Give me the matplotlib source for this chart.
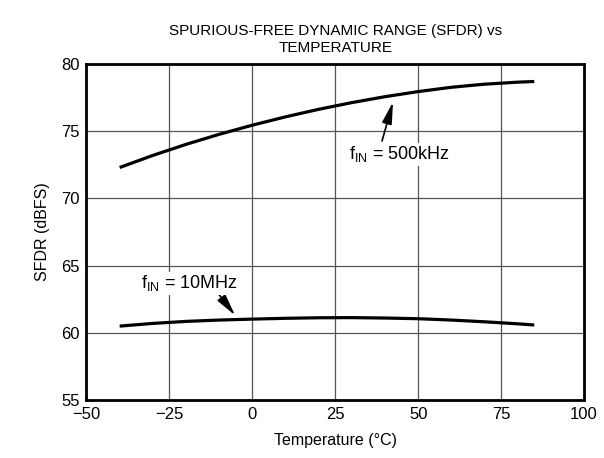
import matplotlib
matplotlib.use("Agg")
import matplotlib.pyplot as plt

plt.rcParams["font.family"] = ["Liberation Sans", "DejaVu Sans"]
plt.rcParams["mathtext.fontset"] = "custom"
plt.rcParams["mathtext.rm"] = "Liberation Sans"

temp = [-40, -30, -20, -10, 0, 10, 20, 30, 40, 50, 60, 70, 80, 85]
sfdr_500k = [72.3, 73.2, 74.02, 74.77, 75.45, 76.07, 76.63, 77.13, 77.57, 77.95, 78.27, 78.5, 78.65, 78.7]
sfdr_10m = [60.5, 60.7, 60.85, 60.95, 61.02, 61.08, 61.12, 61.13, 61.1, 61.05, 60.95, 60.82, 60.67, 60.58]

x_ticks = [-50, -25, 0, 25, 50, 75, 100]
x_tick_labels = ["\u221250", "\u221225", "0", "25", "50", "75", "100"]
y_ticks = [55, 60, 65, 70, 75, 80]

fig = plt.figure(figsize=(6.04, 4.58), dpi=100)
ax = fig.add_axes([0.1432, 0.1266, 0.8237, 0.7336])

ax.plot(temp, sfdr_500k, color="black", linewidth=2.3, solid_capstyle="butt")
ax.plot(temp, sfdr_10m, color="black", linewidth=2.3, solid_capstyle="butt")

ax.set_xlim(-50, 100)
ax.set_ylim(55, 80)
ax.set_xticks(x_ticks)
ax.set_xticklabels(x_tick_labels)
ax.set_yticks(y_ticks)
ax.tick_params(length=0, labelsize=12, pad=5)
ax.grid(True, color="#555555", linewidth=0.9)
for s in ax.spines.values():
    s.set_linewidth(2)
    s.set_color("black")

# long narrow arrowheads like the datasheet figure
arrow = dict(arrowstyle="-|>,head_length=1.1,head_width=0.25", color="black",
             lw=1.2, shrinkA=0, shrinkB=0, mutation_scale=12)
box = dict(facecolor="white", edgecolor="none", pad=1)
ax.annotate("", xy=(42.4, 77.17), xytext=(39.1, 74.27), arrowprops=arrow)
ax.text(44.5, 73.3, "f$_{\\mathregular{IN}}$ = 500kHz", ha="center", va="center",
        fontsize=13, bbox=box)
ax.annotate("", xy=(-5.2, 61.3), xytext=(-10.4, 62.96), arrowprops=arrow)
ax.text(-19.1, 63.7, "f$_{\\mathregular{IN}}$ = 10MHz", ha="center", va="center",
        fontsize=13, bbox=box)

ax.set_xlabel("Temperature (\u00b0C)", fontsize=11.5, labelpad=8)
ax.set_ylabel("SFDR (dBFS)", fontsize=11.5, labelpad=8)
ax.set_title("SPURIOUS-FREE DYNAMIC RANGE (SFDR) vs\nTEMPERATURE", fontsize=11, pad=9)

fig.savefig("out.png", dpi=100)
